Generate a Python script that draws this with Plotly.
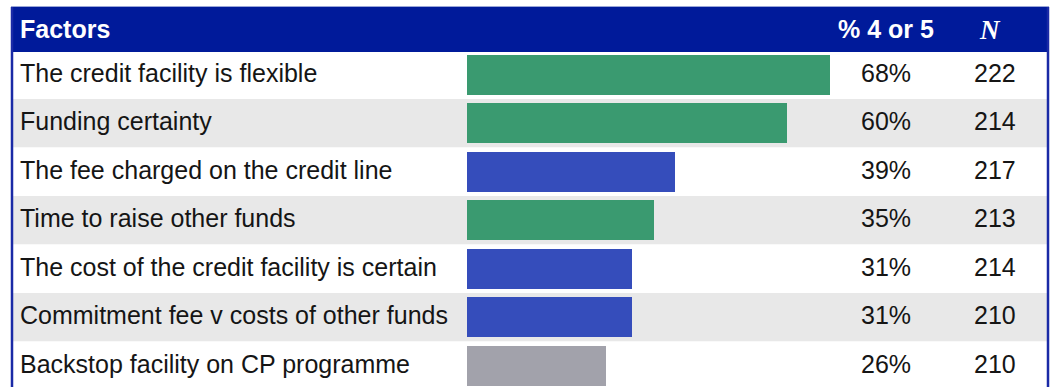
import plotly.graph_objects as go

# Survey results: share rating each factor 4 or 5, and number of respondents
factors = [
    "The credit facility is flexible",
    "Funding certainty",
    "The fee charged on the credit line",
    "Time to raise other funds",
    "The cost of the credit facility is certain",
    "Commitment fee v costs of other funds",
    "Backstop facility on CP programme",
]
pct_4_or_5 = [68, 60, 39, 35, 31, 31, 26]
n_resp = [222, 214, 217, 213, 214, 210, 210]
col_headers = ["Factors", "% 4 or 5", "N"]

# Bar colour for each factor
GREEN, BLUE, GREY = "#3a9a70", "#354dbb", "#a2a2ab"
bar_colours = [GREEN, GREEN, BLUE, GREEN, BLUE, BLUE, GREY]

W, H = 1053, 387
ROW_TOP, ROW_H = 50.5, 48.5  # table rows in pixels


def px_x(p):
    return p / W


def px_y(p):
    return 1 - p / H


def row_u(p):
    # pixel row -> y-axis units (row i centred on i)
    return (p - ROW_TOP) / ROW_H - 0.5


rows = list(range(len(factors)))

fig = go.Figure()
fig.add_trace(go.Bar(
    x=pct_4_or_5,
    y=rows,
    orientation="h",
    width=40 / ROW_H,
    marker=dict(color=bar_colours, line=dict(width=0)),
    hoverinfo="skip",
))

shapes = []
# alternating row shading
for i in rows:
    shapes.append(dict(
        type="rect", xref="paper", yref="y", layer="below",
        x0=px_x(13), x1=px_x(1047), y0=i - 0.5, y1=i + 0.5,
        fillcolor="#ffffff" if i % 2 == 0 else "#e8e8e8", line=dict(width=0),
    ))
# header band
shapes.append(dict(
    type="rect", xref="paper", yref="paper", layer="below",
    x0=px_x(11), x1=px_x(1049), y0=px_y(52), y1=px_y(7),
    fillcolor="#001a9a", line=dict(width=0),
))
# thin rule above the header
shapes.append(dict(
    type="line", xref="paper", yref="paper",
    x0=px_x(11), x1=px_x(1049), y0=px_y(6.5), y1=px_y(6.5),
    line=dict(color="#9aa6d8", width=1),
))
# side borders
for xp in (12, 1048):
    shapes.append(dict(
        type="line", xref="paper", yref="paper",
        x0=px_x(xp), x1=px_x(xp), y0=0, y1=px_y(7),
        line=dict(color="#1a2aa6", width=2.5),
    ))

ann = []
BODY = dict(family="Liberation Sans, Arial, sans-serif", size=25, color="#151515")
HEAD = dict(family="Liberation Sans, Arial, sans-serif", size=25, color="#ffffff")

ann.append(dict(text="<b>" + col_headers[0] + "</b>", x=px_x(18), y=px_y(29.5),
                xref="paper", yref="paper", xanchor="left", yanchor="middle",
                showarrow=False, font=HEAD))
ann.append(dict(text="<b>" + col_headers[1] + "</b>", x=px_x(886), y=px_y(29.5),
                xref="paper", yref="paper", xanchor="center", yanchor="middle",
                showarrow=False, font=HEAD))
ann.append(dict(text="<b><i>" + col_headers[2] + "</i></b>", x=px_x(990), y=px_y(30),
                xref="paper", yref="paper", xanchor="center", yanchor="middle",
                showarrow=False,
                font=dict(family="Liberation Serif, Times New Roman, serif", size=27, color="#ffffff")))

for i in rows:
    ann.append(dict(text=factors[i], x=px_x(18), y=i, xref="paper", yref="y",
                    xanchor="left", yanchor="middle", showarrow=False, font=BODY, yshift=2))
    ann.append(dict(text=f"{pct_4_or_5[i]}%", x=px_x(886), y=i, xref="paper", yref="y",
                    xanchor="center", yanchor="middle", showarrow=False, font=BODY, yshift=2))
    ann.append(dict(text=f"{n_resp[i]}", x=px_x(995), y=i, xref="paper", yref="y",
                    xanchor="center", yanchor="middle", showarrow=False, font=BODY, yshift=2))

fig.update_layout(
    width=W, height=H,
    margin=dict(l=0, r=0, t=0, b=0),
    paper_bgcolor="#ffffff", plot_bgcolor="rgba(0,0,0,0)",
    showlegend=False,
    xaxis=dict(domain=[467 / W, 1000.8 / W], range=[0, 100], visible=False, fixedrange=True),
    yaxis=dict(domain=[0, 1], range=[row_u(H), row_u(0)], visible=False, fixedrange=True),
    shapes=shapes,
    annotations=ann,
    bargap=0,
)

fig.write_html("out.html")
